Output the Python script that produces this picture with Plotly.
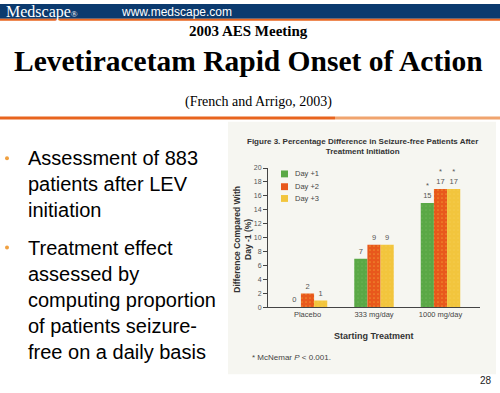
import plotly.graph_objects as go

W, H = 500, 393

categories = ["Placebo", "333 mg/day", "1000 mg/day"]
series_names = ["Day +1", "Day +2", "Day +3"]
day1 = [0, 7, 15]
day2 = [2, 9, 17]
day3 = [1, 9, 17]
sig = [False, False, True]
y_ticks = [0, 2, 4, 6, 8, 10, 12, 14, 16, 18, 20]

colors = ["#5aa846", "#e8581c", "#f2c53d"]
pat_fg = ["#a8d890", "#f4c040", "#f8e08a"]

def px(x):
    return x / W

def py(y):
    return 1 - y / H

def labels(vals):
    return [("*<br>" if s else "") + str(v) for v, s in zip(vals, sig)]

fig = go.Figure()
for name, vals, c, pf in zip(series_names, [day1, day2, day3], colors, pat_fg):
    fig.add_trace(go.Bar(
        x=categories, y=vals, name=name,
        marker=dict(color=c, line=dict(width=0),
                    pattern=dict(shape=".", fgcolor=pf, size=4, solidity=0.15 if name == "Day +2" else 0.05)),
        text=labels(vals), textposition="outside", cliponaxis=False,
        textfont=dict(family="Liberation Sans Narrow, Arial", size=7.5, color="#555"),
        showlegend=False,
    ))

shapes = []
# header bar
shapes.append(dict(type="rect", xref="paper", yref="paper", x0=0, x1=1, y0=py(15), y1=py(0),
                   fillcolor="#0b3a6e", line=dict(width=0), layer="below"))
shapes.append(dict(type="rect", xref="paper", yref="paper", x0=0, x1=1, y0=py(17), y1=py(15),
                   fillcolor="#e8641e", line=dict(width=0), layer="below"))
# separator line
shapes.append(dict(type="rect", xref="paper", yref="paper", x0=0, x1=px(335), y0=py(117.5), y1=py(114.5),
                   fillcolor="#e8641e", line=dict(width=0), layer="below"))
shapes.append(dict(type="rect", xref="paper", yref="paper", x0=px(335), x1=1, y0=py(117.5), y1=py(114.5),
                   fillcolor="#f0a46e", line=dict(width=0), layer="below"))
# chart image background
shapes.append(dict(type="rect", xref="paper", yref="paper", x0=px(228), x1=px(496), y0=py(377), y1=py(120),
                   fillcolor="#f6f6f1", line=dict(width=0), layer="below"))
# bullets
for by in [157, 248]:
    shapes.append(dict(type="circle", xref="paper", yref="paper", x0=px(5), x1=px(9),
                       y0=py(by + 2), y1=py(by - 2), fillcolor="#f0a040", line=dict(width=0)))
# legend squares
for c, ly in zip(colors, [173, 186, 198]):
    shapes.append(dict(type="rect", xref="paper", yref="paper", x0=px(281), x1=px(288),
                       y0=py(ly + 3.5), y1=py(ly - 3.5), fillcolor=c, line=dict(width=0)))

ann = []
def A(x, y, text, size, family, color="#000", xanchor="center", **kw):
    ann.append(dict(x=px(x), y=py(y), xref="paper", yref="paper", text=text, showarrow=False,
                    xanchor=xanchor, yanchor="middle", font=dict(size=size, family=family, color=color), **kw))

serif = "Liberation Serif, Times New Roman, serif"
sans = "Liberation Sans, Arial, sans-serif"
narrow = "Liberation Sans Narrow, Arial Narrow, Arial, sans-serif"

A(4, 8, "Medscape<span style='font-size:9px'>®</span>", 16, serif, "#fff", xanchor="left")
A(119, 8, "www.medscape.com", 12, sans, "#fff", xanchor="left")
A(248, 27, "<b>2003 AES Meeting</b>", 15, serif)
A(248, 58, "<b>Levetiracetam Rapid Onset of Action</b>", 29.5, serif)
A(258, 100, "(French and Arrigo, 2003)", 14, serif)

A(26, 183, "Assessment of 883<br>patients after LEV<br>initiation", 20, sans, "#000", xanchor="left", align="left")
A(26, 301, "Treatment effect<br>assessed by<br>computing proportion<br>of patients seizure-<br>free on a daily basis", 20, sans, "#000", xanchor="left", align="left")

A(362, 145, "<b>Figure 3. Percentage Difference in Seizure-free Patients After<br>Treatment Initiation</b>", 8, narrow, "#333")
for name, ly in zip(series_names, [173, 186, 198]):
    A(293, ly, name, 7.5, narrow, "#444", xanchor="left")
A(243, 240, "<b>Difference Compared With<br>Day -1 (%)</b>", 8.5, narrow, "#333", textangle=-90)
A(374, 338, "<b>Starting Treatment</b>", 9, narrow, "#333")
A(250, 360, "* McNemar <i>P</i> < 0.001.", 8, narrow, "#444", xanchor="left")
A(486, 383, "28", 10, sans, "#222")

fig.update_layout(
    width=W, height=H,
    margin=dict(l=0, r=0, t=0, b=0),
    paper_bgcolor="#ffffff", plot_bgcolor="rgba(0,0,0,0)",
    barmode="group", bargap=0.406, bargroupgap=0,
    shapes=shapes, annotations=ann,
    xaxis=dict(domain=[px(268), px(480)], range=[-0.594, 2.594], showgrid=False, zeroline=False,
               showline=True, linecolor="#444", linewidth=1, ticks="",
               tickfont=dict(size=7.5, family=narrow, color="#444")),
    yaxis=dict(domain=[py(309), py(167)], range=[0, 20], tickvals=y_ticks, showgrid=False, zeroline=False,
               showline=True, linecolor="#444", linewidth=1, ticks="outside", ticklen=4, tickcolor="#444",
               tickfont=dict(size=7, family=narrow, color="#555")),
)

fig.write_html("out.html", config={"displayModeBar": False},
               post_script="document.body.style.margin='0';document.body.style.overflow='hidden';")
